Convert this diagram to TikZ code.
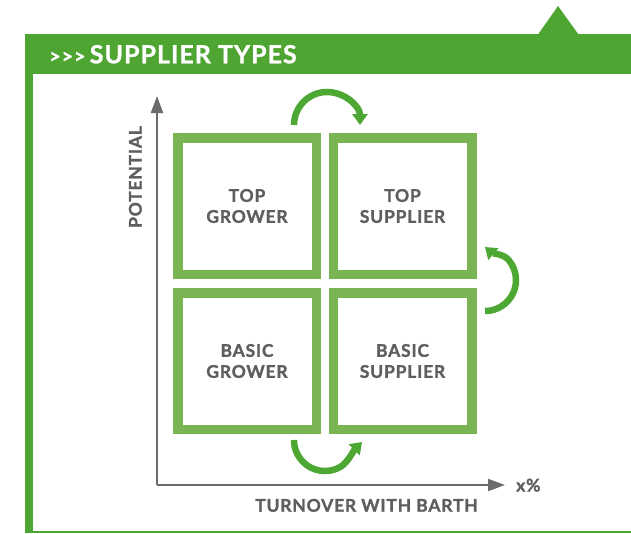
\documentclass[tikz,border=0pt]{standalone}
\usepackage{fontspec}
\usetikzlibrary{arrows.meta}
\newfontfamily\labelfont{Lato}[LetterSpace=4.5,FakeBold=1.3]
\newfontfamily\titlefont{Lato}[LetterSpace=4,FakeBold=1.0]
\definecolor{hdr}{HTML}{4FA532}
\definecolor{boxg}{HTML}{7AB554}
\definecolor{arrg}{HTML}{4DA733}
\definecolor{txtg}{HTML}{5E5E5E}
\definecolor{axg}{HTML}{6B6B6B}
\tikzset{
  quad/.style={draw=boxg, line width=9.5pt, minimum width=138.5pt, minimum height=136.5pt,
    inner sep=0pt, align=center, text=txtg,
    font=\labelfont\bfseries\fontsize{17.5}{21}\selectfont},
  flow/.style={draw=arrg, line width=6.5pt, -{Triangle[length=11pt,width=15pt]}},
  axis/.style={draw=axg, line width=2pt, -{Triangle[length=17pt,width=12pt]}},
  lbl/.style={inner sep=0pt, text=txtg, font=\labelfont\bfseries\fontsize{17.5}{21}\selectfont}
}
\begin{document}
\begin{tikzpicture}[x=1pt,y=-1pt]
\useasboundingbox (0,0) rectangle (631,533);
% frame
\fill[hdr] (25,34) rectangle (631,74);
\fill[hdr] (538,34.5) -- (558,6) -- (578.5,34.5) -- cycle;
\fill[hdr] (25,73) rectangle (33,533);
\fill[hdr] (25,531) rectangle (631,533);
\node[anchor=base west, inner sep=0pt, text=white, font=\titlefont\bfseries\fontsize{25}{25}\selectfont]
  (title) at (49,63.3) {{\fontsize{20}{20}\selectfont >>>}\,SUPPLIER TYPES};
% boxes
\node[quad] (tg) at (247,206) {TOP\\GROWER};
\node[quad] (ts) at (402.5,206) {TOP\\SUPPLIER};
\node[quad] (bg) at (247,361) {BASIC\\GROWER};
\node[quad] (bs) at (402.5,361) {BASIC\\SUPPLIER};
% axes
\coordinate (O) at (157,485);
\coordinate (ytip) at (157,96);
\coordinate (xtip) at (505,485);
\draw[axis] (O) -- (ytip);
\draw[axis] (O) -- (xtip);
\node[lbl, anchor=base, rotate=90] (pot) at (141.7,177) {POTENTIAL};
\node[lbl, anchor=base] (turn) at (366.5,511.7) {TURNOVER WITH BARTH};
\node[lbl, anchor=base west] (pct) at (516,491.5) {x\%};
% flow arrows
\coordinate (a1s) at (294,125);
\draw[flow] (a1s) arc[start angle=180, end angle=360, radius=33];
\coordinate (a2s) at (485,311);
\coordinate (a2e) at (485,247);
\draw[flow] (a2s) arc[start angle=90, end angle=-40, radius=31]
  .. controls (503.7,254) and (492,253) .. (a2e);
\coordinate (a3s) at (294,440);
\coordinate (a3e) at (362,442);
\draw[flow] (a3s) arc[start angle=180, end angle=60, radius=31]
  .. controls (347.5,462.8) and (354,450) .. (a3e);
\end{tikzpicture}
\end{document}
